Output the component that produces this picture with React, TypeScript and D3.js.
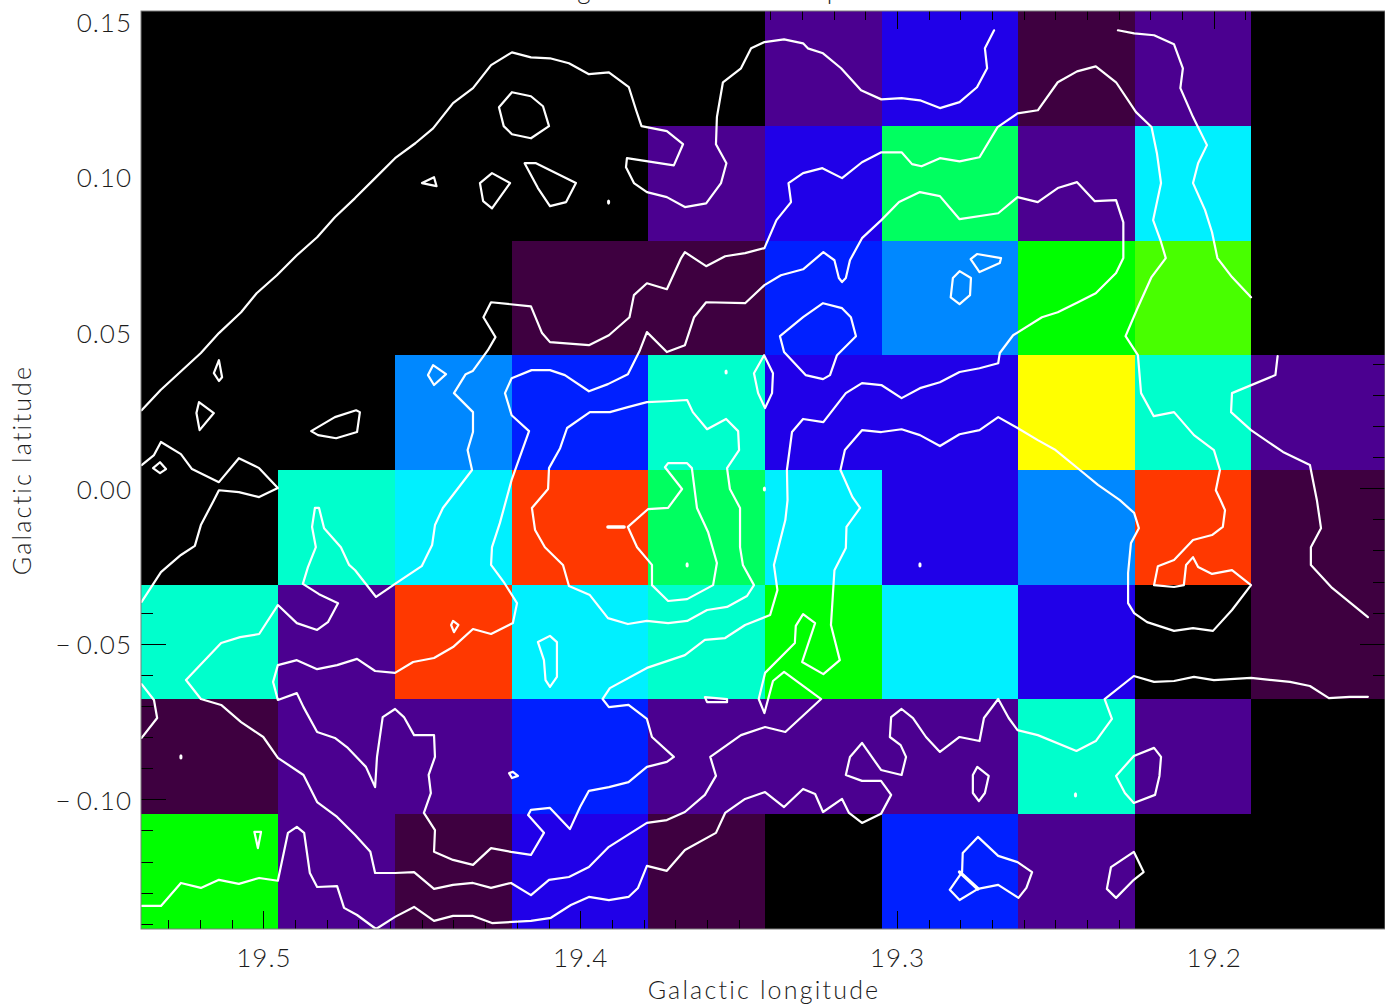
import React from "react";
import * as d3 from "d3";

// Map cell edges, degrees
const lonEdges = [19.5388, 19.4955, 19.4586, 19.4217, 19.3787, 19.3418, 19.3049, 19.2619, 19.225, 19.1884, 19.1461];
const latEdges = [0.1535, 0.1165, 0.0795, 0.0429, 0.006, -0.031, -0.0676, -0.1045, -0.1415];
const levels = [
  "#000000", "#3e0040", "#4b0090", "#2000e8", "#0020ff", "#0088ff", "#00f0ff",
  "#00ffcc", "#00ff60", "#00ff00", "#48ff00", "#ffff00", "#ff3800",
];
// Level index of each map cell, row by row from the top
const row0 = [0, 0, 0, 0, 0, 2, 3, 1, 2, 0];
const row1 = [0, 0, 0, 0, 2, 3, 8, 2, 6, 0];
const row2 = [0, 0, 0, 1, 1, 4, 5, 9, 10, 0];
const row3 = [0, 0, 5, 4, 7, 3, 3, 11, 7, 2];
const row4 = [0, 7, 6, 12, 8, 6, 3, 5, 12, 1];
const row5 = [7, 2, 12, 6, 7, 9, 6, 3, 0, 1];
const row6 = [1, 2, 2, 4, 2, 2, 2, 7, 2, 0];
const row7 = [9, 2, 1, 3, 1, 0, 4, 2, 0, 0];
const rows = [row0, row1, row2, row3, row4, row5, row6, row7];

const lonTicks = [19.5, 19.4, 19.3, 19.2];
const latTicks = [0.15, 0.1, 0.05, 0, -0.05, -0.1];
const lonMinor = d3.range(0, 40).map((i) => 19.54 - i * 0.01);
const latMinor = d3.range(0, 30).map((i) => 0.15 - i * 0.01);

// Contours: [longitude, latitude] in millidegrees
const arcUpper = [[19538.6,25.2],[19532.6,31.7],[19519.9,43.6],[19514.2,50],[19507.2,56.7],[19502.3,62.8],[19495.9,68.6],[19489.6,75],[19483.2,80.8],[19477.6,87.2],[19471.3,93.3],[19464.9,99.8],[19458.6,106.2],[19452.2,111],[19446.6,115.8],[19440.3,123.9],[19434,128.7],[19428.3,136.1],[19421.7,140.2],[19415.7,138.6],[19409.7,138.3],[19403.7,136.7],[19397.4,133.2],[19391.1,133.8],[19384.8,129],[19382.5,121.6],[19380.8,116.5],[19372.8,114.9],[19367.7,110.7],[19370.6,103.9],[19385.4,106.2],[19385.7,103.3],[19383.2,98.2],[19379.1,95.3],[19372.8,93.7],[19367.1,90.5],[19360.4,91.7],[19355.7,98.2],[19354,104.6],[19357.3,110.7],[19357,119.4],[19355.1,130.6],[19349.4,135.1],[19346.2,141.5],[19342,143.5],[19335.8,144.4],[19329.8,143.1],[19328.3,141.5],[19323.5,139.9],[19317.8,135.1],[19311.5,128],[19305.1,125.1],[19298.7,125.5],[19292.9,124.8],[19286.6,122.3],[19280.4,124.2],[19274.9,129],[19271.7,135.1],[19272.4,141.5],[19269.5,147.3]];
const arcTopRight = [[19230.4,147.3],[19225.3,146.3],[19219,145.7],[19212.7,142.8],[19209.9,135.1],[19210.7,128.7],[19206.7,119.4],[19202.3,110.4],[19205.1,104.6],[19206.7,98.2],[19202.9,89.5],[19200.7,82.4],[19199,74.1],[19194.4,68],[19188.4,61.5]];
const arcFarRight = [[19180,42.6],[19180.7,36.5],[19194.4,30.7],[19194.7,24.6],[19188.4,18.8],[19178.3,11.8],[19169.8,7.6],[19167.6,-3.7],[19166.3,-12.7],[19169.5,-18.8],[19169.5,-24.5],[19162.8,-31.9],[19151.5,-41.3]];
const arcLeft = [[19538.6,7.6],[19534.7,10.8],[19532.5,15],[19526.2,11.1],[19522.7,6.3],[19514.2,2.1],[19507.9,9.8],[19501.5,6.6],[19495.6,0.2],[19501.5,-2.7],[19507.9,-1.1],[19514.2,-0.5],[19515.8,-3.7],[19519.9,-11.7],[19521.8,-18.4],[19526.2,-21.3],[19532.5,-26.8],[19538.6,-36.4]];
const arcLeftLow = [[19538.6,-62.8],[19534.7,-67.9],[19533.7,-73.7],[19538.6,-80.1]];
const arcBottom = [[19538.6,-134.1],[19532.5,-134.1],[19526.2,-126.7],[19519.9,-128.3],[19514.2,-125.7],[19507.9,-127],[19501.5,-125.1],[19495.6,-126],[19492.4,-110.6],[19489.6,-108.7],[19487.3,-110.6],[19485.5,-123.5],[19483.2,-128],[19476.9,-127.7],[19474.7,-134.7],[19470.6,-137],[19464.6,-141.5],[19458.6,-137.6],[19452.6,-134.4],[19446.3,-138.9],[19440.3,-137.3],[19434,-137.3],[19428,-139.6],[19415.7,-138.9],[19409.4,-137.9],[19403.1,-133.8],[19397.4,-131.2],[19391.1,-132.2],[19384.9,-131.2],[19381.9,-128.3],[19379.1,-121.2],[19372.8,-122.8],[19367.1,-116.1],[19357.3,-110.6],[19354.4,-104.2],[19348.1,-99.7],[19341.8,-97.5],[19335.8,-102.3],[19329.8,-96.5],[19326,-98.1],[19323.5,-103.9],[19317.5,-99.7],[19315.3,-104.2],[19311.2,-107.4],[19305.2,-104.5],[19302,-98.4],[19305.2,-93.9],[19311.2,-93.9],[19316.3,-92],[19315,-86.2],[19311.2,-81.7],[19305.2,-90.4],[19298.7,-92],[19297.3,-86.2],[19299,-82.4],[19302.4,-79.8],[19302,-73.4],[19298.7,-70.8],[19295.1,-73.7],[19291,-79.8],[19286.6,-84.6],[19280.4,-79.8],[19274.1,-81.1],[19272.7,-73.7],[19268.2,-67.6],[19264.9,-73.7],[19262.1,-77.6],[19255.7,-79.2],[19243.5,-84.3],[19237.4,-81.1],[19232.3,-74],[19234.6,-67.6],[19225.4,-60.2],[19219,-62.1],[19212.7,-61.8],[19206.4,-60.5],[19200.1,-61.5],[19188.4,-60.8],[19176.1,-62.1],[19169.8,-63.4],[19163.8,-67.3],[19157.2,-66.9],[19151.5,-66.9]];

const loopOuter = [[19428.3,59.9],[19415.7,58.6],[19412.2,50],[19409.7,47.1],[19397.4,46.1],[19391.1,49.3],[19384.6,55.1],[19383.2,62.2],[19379.1,66],[19372.8,64.1],[19368.3,74.1],[19367.1,76],[19360.4,71.5],[19354.4,74.7],[19348.1,75.7],[19342,77.3],[19338.2,86.3],[19333.6,92.1],[19334.4,98.2],[19329.8,101.4],[19323.7,103],[19317.5,99.8],[19311.2,104.9],[19305.1,108.1],[19298.7,108.1],[19295.4,104.3],[19292.4,103.6],[19286.6,106.2],[19280.4,105.2],[19274.1,106.5],[19268.4,116.2],[19262.1,120.6],[19255.7,121.6],[19249.4,130.6],[19243.3,134.1],[19237.4,135.7],[19231,130.6],[19224.7,121],[19219.8,116.2],[19218.1,107.8],[19216.8,98.2],[19219.3,86.3],[19217,79.9],[19215.3,74.1],[19219.8,68],[19224.1,58.3],[19228,49],[19224.1,42.9],[19223.1,30.7],[19219.1,23.3],[19212.7,24.6],[19206.4,17.2],[19200.1,12.4],[19198.2,6],[19199.5,-0.5],[19198,-3.7],[19196.6,-6.9],[19197.3,-12.3],[19200.7,-14.9],[19206.7,-16.5],[19212.7,-22.9],[19217.8,-24.9],[19219,-31],[19212.7,-31.6],[19209.6,-31],[19208.9,-24.5],[19206.7,-22],[19205.1,-25.2],[19200.7,-27.4],[19194.4,-26.2],[19188.4,-31],[19194.4,-39],[19200.4,-45.7],[19206.7,-44.8],[19212.7,-45.7],[19221.2,-42.9],[19225.3,-40],[19227.2,-36.8],[19227.2,-27.1],[19226.3,-17.5],[19223.8,-12.7],[19225.3,-7.8],[19229.8,-3.7],[19236.7,1.2],[19242.4,6],[19250.1,12.4],[19255.7,15.6],[19262.1,19.5],[19268.2,23],[19274.1,18.8],[19280.4,17.5],[19286.6,13.7],[19292.9,17.2],[19298.7,19.1],[19305.1,18.2],[19311.2,18.8],[19316.6,12.4],[19318,6],[19314.2,-2.7],[19311.8,-6.2],[19316.1,-12.3],[19316.3,-19.1],[19319.9,-26.2],[19321,-43.8],[19318.2,-55.1],[19323.4,-59.6],[19330.1,-55.7],[19326,-43.2],[19329.8,-40.3],[19332.1,-44.1],[19332.4,-49.6],[19341.8,-59.2],[19343.8,-67.6],[19342,-72.1],[19339.3,-61.8],[19335.8,-58.9],[19324.1,-67.6],[19335.4,-78.2],[19341.8,-76.6],[19349.4,-79.2],[19359.1,-86.2],[19357.3,-92.3],[19360.8,-98.4],[19367.1,-103.9],[19372.8,-106.5],[19379.1,-107.4],[19391.1,-115.1],[19397.4,-121.6],[19403.7,-124.8],[19410,-125.7],[19415.7,-130.6],[19422,-126.7],[19428.3,-128.3],[19434,-126.7],[19440.3,-127.3],[19446.3,-128.6],[19452.6,-123.2],[19458.6,-123.5],[19464.9,-123.5],[19466.4,-116.7],[19471.2,-111.3],[19476.9,-105.5],[19483.2,-100.7],[19487.5,-92],[19495.6,-86.5],[19500.2,-79.8],[19507.2,-75],[19513.5,-69.5],[19519.9,-67.6],[19524.6,-61.5],[19513.5,-49.6],[19507.5,-47.7],[19501.5,-46.7],[19495.6,-37.4],[19489.6,-43.2],[19483.2,-45.4],[19479.8,-42.9],[19476.6,-36.8],[19482.6,-33.9],[19487.7,-30.6],[19486.1,-25.2],[19483.6,-18.8],[19484.8,-12.3],[19483.9,-6.2],[19482.6,-6.2],[19481,-12.7],[19475.7,-18.8],[19473.1,-24.5],[19471.2,-26.2],[19464.6,-34.8],[19458.6,-30.6],[19450.2,-24.9],[19446.9,-18.1],[19446,-11.7],[19443.5,-6.2],[19434.3,6],[19435.7,12.4],[19434,18.2],[19434,24.6],[19440,30.7],[19436.3,36.8],[19434.1,37.8],[19429.3,44.5],[19426.9,48.7],[19430.7,55.1]];
const loopMiddle = [[19379.1,50.3],[19372.8,43.9],[19367.1,46.1],[19364.2,55.1],[19360.4,59.9],[19348.1,59.6],[19342,65.4],[19336.8,68.6],[19329.8,70.5],[19323.4,76],[19319.9,73.4],[19318.5,67.7],[19317.5,66.4],[19316.3,67.7],[19315,73.4],[19311.2,80.5],[19305.1,86.3],[19299.5,92.1],[19292.9,95.3],[19286.6,94],[19280.4,86.6],[19268.2,88.5],[19262.1,93.7],[19255.7,92.1],[19249.4,96.6],[19243.3,98.5],[19237.7,92.4],[19231,92.7],[19228.7,85.6],[19228.7,74.1],[19231,69.3],[19237.4,62.8],[19243,59.9],[19249.4,56.7],[19254.4,55.1],[19263.5,49.3],[19267.7,43.6],[19268.2,40.3],[19274.1,38.7],[19280.4,37.5],[19286.6,34.2],[19292.9,32.3],[19298.7,29.1],[19305.1,33.3],[19311.2,33.9],[19316.3,30.7],[19323.4,21.4],[19329.8,22.4],[19333.3,18.2],[19334.9,6],[19334.7,-3.7],[19335.4,-10.1],[19339,-24.5],[19337.9,-32.6],[19340.2,-40.6],[19348.1,-43.8],[19354.4,-48],[19360.8,-48.6],[19367.1,-53.5],[19379.1,-57.6],[19390.8,-64.1],[19393.1,-67.6],[19391.1,-70.2],[19384.9,-69.5],[19379.1,-74],[19377.5,-79.8],[19370.6,-86.2],[19372.8,-87.8],[19379.1,-89.4],[19384.9,-94.3],[19391.1,-95.9],[19397.4,-97.1],[19400.2,-102.3],[19403.4,-109.4],[19409.7,-102.6],[19415.7,-103.2],[19416.6,-104.9],[19411.6,-110.6],[19415.7,-117.7],[19422,-116.7],[19428.3,-115.5],[19434,-120.9],[19440.3,-119.3],[19446.3,-116.7],[19446,-109.7],[19449.5,-104.2],[19447.3,-97.8],[19448,-92],[19446,-86.2],[19446.3,-79.2],[19452.6,-79.2],[19455.8,-73.4],[19458.6,-70.8],[19462.5,-73.4],[19464.3,-86.2],[19464.9,-95.9],[19467.8,-89.4],[19473.5,-83.3],[19477.6,-80.1],[19483.2,-78.2],[19487.5,-70.2],[19489.6,-65.7],[19495.6,-67.9],[19497.1,-62.1],[19495.6,-56.7],[19489.6,-55.1],[19483.2,-58],[19476.9,-56.7],[19470.6,-54.7],[19464.9,-58.6],[19458.6,-59.2],[19452.9,-55.7],[19446.3,-54.4],[19440.3,-50.9],[19434,-45.1],[19428.3,-46.7],[19421.4,-43.2],[19420.1,-36.8],[19424.1,-30.3],[19428.3,-24.5],[19428,-18.8],[19425.5,-11],[19421.8,2.8],[19416.3,18.5],[19421.8,23.6],[19423.9,30.7],[19421.8,35.5],[19415.5,38.1],[19409.7,38.1],[19405,36.5],[19397.4,31.3],[19391.4,33.6],[19385.1,36.8],[19381.3,44.5]];
const loopInner = [[19379.1,27.8],[19385.1,26.2],[19390.8,24.6],[19397.1,24.6],[19404.3,19.5],[19406.5,13],[19410,6.6],[19410.3,-0.1],[19415.4,-6.2],[19414.4,-13.3],[19411.3,-18.8],[19405.6,-24.5],[19403.7,-31.3],[19397.1,-34.2],[19391.4,-41.6],[19385.1,-43.5],[19379.1,-42.5],[19372.4,-43.2],[19366.4,-42.5],[19360.1,-39],[19353.8,-38],[19347.5,-34.5],[19345.3,-31],[19348.8,-24.5],[19349.7,-18.8],[19349.7,-6.2],[19352.9,-0.1],[19353.8,6.6],[19350,12.4],[19350.3,18.5],[19354.1,22.4],[19360.1,19.1],[19364.6,24.6],[19366.4,28.5],[19372.8,28.1]];
const loopCore = [[19373.4,6.9],[19372.4,8.2],[19366.4,8.2],[19364.9,6.6],[19363.3,-6.2],[19359.8,-13.9],[19357,-23.9],[19358.2,-31],[19366.4,-35.5],[19372.4,-36.1],[19377.5,-31],[19377.5,-24.5],[19382.2,-18.8],[19385.1,-12.3],[19378.8,-6.6],[19372.4,-6.2],[19368,-0.1]];

const islands = [
  [[19421.7,127.4],[19415.7,126.1],[19411.9,122.9],[19410,116.5],[19415.7,112.6],[19421.7,113.9],[19424.3,116.5],[19425.8,122.6]],
  [[19450.1,98.2],[19446.3,100.1],[19445.5,97.2]],
  [[19428,101.4],[19422.3,98.2],[19428,90.1],[19430.8,92.4],[19431.8,98.2]],
  [[19417.7,104.6],[19414.1,104.6],[19401.5,98.2],[19404.6,92.1],[19409.7,90.8],[19413.5,96.6]],
  [[19514.2,41.3],[19513.2,35.8],[19514.2,34.6],[19515.8,37.1]],
  [[19520.5,27.8],[19515.8,24.3],[19520.3,18.8],[19521.3,24.3]],
  [[19485.1,18.5],[19477.6,23],[19470.9,25.2],[19469.7,24.6],[19470.6,18.2],[19477.2,16.2],[19482.9,17.2]],
  [[19446.6,39.7],[19442.5,36.8],[19446.3,33.3],[19448.2,36.5]],
  [[19532.8,8.5],[19530.9,6.3],[19532.8,5],[19535,6.6]],
  [[19323.5,59.6],[19317.5,58],[19314.7,55.1],[19313.1,49],[19319.1,42.9],[19321.3,36.5],[19323.5,35.2],[19329,36.5],[19335.8,43.9],[19337.1,49],[19329.8,55.1]],
  [[19280.4,69.9],[19276.8,67.7],[19277.1,62.2],[19280.4,59.3],[19283.2,61.5],[19282.5,67.7]],
  [[19274.9,75.4],[19267.3,74.1],[19267.7,72.5],[19274.1,69.6],[19276.9,73.8]],
  [[19342.1,42.9],[19339.3,37.1],[19339.6,30.7],[19341.8,25.9],[19344,30.7],[19345.3,37.1]],
  [[19360.8,-67],[19353.8,-67.6],[19353.8,-68.6],[19360.1,-68.6]],
  [[19440.3,-42.5],[19438.6,-43.8],[19440,-46.1],[19440.9,-43.8]],
  [[19422.6,-91.4],[19421.4,-91],[19419.8,-92.3],[19421.7,-93]],
  [[19413.5,-49.3],[19409.7,-47.3],[19407.5,-49.3],[19407.5,-60.5],[19409.7,-63.7],[19411.1,-61.5],[19411.6,-55.1]],
  [[19503,-110.3],[19500.9,-110.3],[19501.9,-115.5]],
  [[19274.8,-89.4],[19271.2,-92.3],[19272.4,-97.8],[19274.3,-100.4],[19276.2,-97.8],[19276.2,-92]],
  [[19219,-83.3],[19216.8,-86.2],[19217.3,-92.3],[19218.7,-98.4],[19225.4,-101],[19228.2,-97.8],[19231,-92.3],[19225.4,-85.9]],
  [[19274.6,-111.9],[19268.2,-118],[19262.1,-120],[19257.5,-123.2],[19259.3,-128.3],[19261.8,-131.5],[19268.2,-127.3],[19274.6,-128.6],[19280.4,-132.2],[19283.5,-128.9],[19279.6,-123.2],[19279.4,-117.1]],
  [[19225.4,-116.7],[19222.3,-123.2],[19225.4,-125.7],[19231,-131.5],[19233.9,-128.6],[19232.6,-121.6]],
];
const openArcs = [arcUpper, arcTopRight, arcFarRight, arcLeft, arcLeftLow, arcBottom];
const closedLoops = [loopOuter, loopMiddle, loopInner, loopCore, ...islands];
const thickStrokes = [
  [[19391.4,-12.3],[19386.3,-12.3]],
  [[19280.4,-123.2],[19274.6,-128.6]],
];
const specks = [[19354.1,37.5],[19292.9,-24.5],[19342,-0.1],[19526.2,-86.2],[19243.8,-98.4],[19366.4,-24.5],[19391.2,92.1]];

const FONT = "Lato, 'Noto Sans', sans-serif";
const INK = "#1c1c1c";

export default function App() {
  const x = d3.scaleLinear().domain([19.5388, 19.1461]).range([141, 1385]);
  const y = d3.scaleLinear().domain([0.1535, -0.1415]).range([11, 929]);
  const line = d3.line<number[]>().x((d) => x(d[0] / 1000)).y((d) => y(d[1] / 1000));
  const closed = d3.line<number[]>().x((d) => x(d[0] / 1000)).y((d) => y(d[1] / 1000)).curve(d3.curveLinearClosed);
  const color = d3.scaleOrdinal<number, string>().domain(levels.map((_, i) => i)).range(levels);
  const fmt = (v: number) => d3.format(".2f")(Math.abs(v));

  return (
    <svg width={1385} height={1004} style={{ position: "absolute", left: 0, top: 0, background: "#fff", display: "block" }}>
      {/* clipped title: only the descenders show above the frame */}
      <g fontFamily={FONT} fontSize={26} fontWeight={300} fill={INK}>
        <text x={584} y={-1} textAnchor="middle">g</text>
        <text x={834} y={-1} textAnchor="middle">p</text>
      </g>
      <rect x={141} y={11} width={1244} height={918} fill="#000" />
      {rows.map((row, r) =>
        row.map((lv, c) => (
          <rect key={`${r}-${c}`} x={x(lonEdges[c])} y={y(latEdges[r])}
            width={x(lonEdges[c + 1]) - x(lonEdges[c])} height={y(latEdges[r + 1]) - y(latEdges[r])}
            fill={color(lv)} shapeRendering="crispEdges" />
        ))
      )}
      {/* ticks */}
      <g stroke="#000" strokeWidth={1} shapeRendering="crispEdges">
        {lonMinor.filter((v) => x(v) > 141 && x(v) < 1385).map((v) => {
          const major = lonTicks.some((t) => Math.abs(t - v) < 1e-6);
          const len = major ? 18 : 9;
          return (
            <g key={v}>
              <line x1={x(v)} x2={x(v)} y1={929} y2={929 - len} />
              <line x1={x(v)} x2={x(v)} y1={11} y2={11 + len} />
            </g>
          );
        })}
        {latMinor.filter((v) => y(v) > 11 && y(v) < 929).map((v) => {
          const major = latTicks.some((t) => Math.abs(t - v) < 1e-6);
          const len = major ? 25 : 12;
          return (
            <g key={v}>
              <line x1={141} x2={141 + len} y1={y(v)} y2={y(v)} />
              <line x1={1385} x2={1385 - len} y1={y(v)} y2={y(v)} />
            </g>
          );
        })}
      </g>
      {/* contours */}
      <g fill="none" stroke="#fff" strokeWidth={2.2} strokeLinejoin="round" strokeLinecap="round">
        {openArcs.map((a, i) => <path key={i} d={line(a) || ""} />)}
        {closedLoops.map((a, i) => <path key={i} d={closed(a) || ""} />)}
        {thickStrokes.map((a, i) => <path key={i} d={line(a) || ""} strokeWidth={3.5} />)}
      </g>
      <g fill="#fff">
        {specks.map((s, i) => <ellipse key={i} cx={x(s[0] / 1000)} cy={y(s[1] / 1000)} rx={1.6} ry={2.6} />)}
      </g>
      <rect x={141} y={11} width={1244} height={918} fill="none" stroke="#7c7c7c" strokeWidth={1} />
      {/* labels */}
      <g fontFamily={FONT} fill={INK} fontWeight={300}>
        {latTicks.map((t) => (
          <text key={t} x={132} y={y(t) + 10} textAnchor="end" fontSize={26} letterSpacing={1}>
            {t < 0 ? <tspan letterSpacing={6}>{"\u2212"}</tspan> : null}{fmt(t)}
          </text>
        ))}
        {lonTicks.map((t) => (
          <text key={t} x={x(t)} y={967} textAnchor="middle" fontSize={26} letterSpacing={1}>{t.toFixed(1)}</text>
        ))}
        <text x={764} y={999} textAnchor="middle" fontSize={25} letterSpacing={2.2}>Galactic longitude</text>
        <text transform="translate(31,470) rotate(-90)" textAnchor="middle" fontSize={25} letterSpacing={2.2}>Galactic latitude</text>
      </g>
    </svg>
  );
}
